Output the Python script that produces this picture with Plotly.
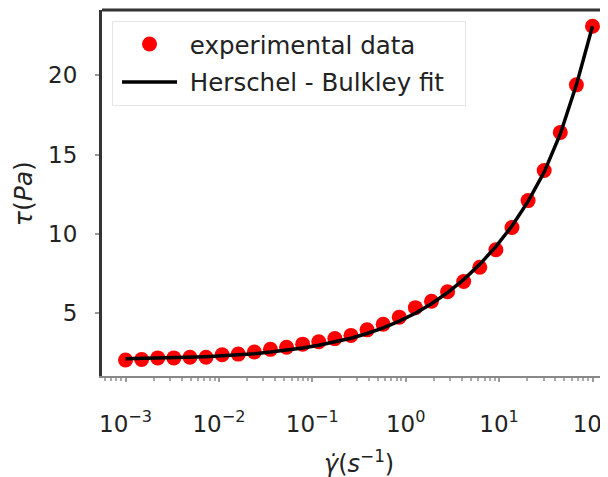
import plotly.graph_objects as go

# shear rate (1/s), 30 log-spaced points from 1e-3 to 1e2
shear_rate = [10 ** (-3 + i * 5 / 29) for i in range(30)]

stress_exp = [2.05, 2.08, 2.18, 2.18, 2.22, 2.22, 2.38, 2.42, 2.55, 2.72,
              2.85, 3.05, 3.20, 3.40, 3.60, 3.95, 4.30, 4.75, 5.35, 5.75,
              6.35, 7.00, 7.90, 9.00, 10.40, 12.10, 14.00, 16.40, 19.40, 23.10]

stress_fit = [2.12, 2.14, 2.16, 2.19, 2.22, 2.26, 2.31, 2.37, 2.45, 2.55,
              2.67, 2.81, 2.98, 3.18, 3.42, 3.72, 4.08, 4.50, 5.00, 5.60,
              6.30, 7.12, 8.08, 9.20, 10.50, 12.05, 13.90, 16.30, 19.40, 23.10]

x_tick_vals = [1e-3, 1e-2, 1e-1, 1e0, 1e1, 1e2]
x_tick_text = ["10<sup>−3</sup>", "10<sup>−2</sup>", "10<sup>−1</sup>",
               "10<sup>0</sup>", "10<sup>1</sup>", "10<sup>2</sup>"]
y_tick_vals = [5, 10, 15, 20]

FONT = "DejaVu Sans"
TXT = "#222222"

fig = go.Figure()
fig.add_trace(go.Scatter(
    x=shear_rate, y=stress_exp, mode="markers",
    name="\u00a0experimental data", legendgroup="a",
    marker=dict(color="#ff0000", size=15, line=dict(width=0)),
))
fig.add_trace(go.Scatter(
    x=shear_rate, y=stress_fit, mode="lines",
    name="\u00a0Herschel - Bulkley fit\u00a0\u00a0", legendgroup="b",
    line=dict(color="#000000", width=3.5),
))

fig.update_layout(
    width=608, height=477,
    margin=dict(l=94, r=8, t=2, b=109),
    paper_bgcolor="white", plot_bgcolor="white",
    font=dict(family=FONT, size=23, color=TXT),
    showlegend=True,
    legend=dict(
        x=0.0198, y=0.971, xanchor="left", yanchor="top",
        bgcolor="white", bordercolor="#e6e6e6", borderwidth=1,
        font=dict(family=FONT, size=24.5, color=TXT),
        itemwidth=55, indentation=4, tracegroupgap=3, traceorder="grouped",
    ),
    xaxis=dict(
        type="log", range=[-3.252, 2.166],
        tickvals=x_tick_vals, ticktext=x_tick_text,
        ticks="outside", ticklen=4, tickwidth=2, tickcolor="#999999",
        showline=True, linecolor="#888888", linewidth=2,
        showgrid=False, zeroline=False,
        ticklabelstandoff=22, ticklabeloverflow="allow",
        minor=dict(ticks="outside", ticklen=3, tickwidth=1.5,
                   tickcolor="#aaaaaa", dtick="D1", showgrid=False),
        tickfont=dict(family=FONT, size=23, color=TXT),
    ),
    yaxis=dict(
        range=[1.04, 24.12],
        tickvals=y_tick_vals,
        ticks="outside", ticklen=4, tickwidth=2, tickcolor="#999999",
        showline=True, linecolor="#333333", linewidth=3,
        showgrid=False, zeroline=False,
        ticklabelstandoff=13,
        tickfont=dict(family=FONT, size=23, color=TXT),
    ),
    shapes=[dict(type="line", xref="paper", yref="paper", x0=0, x1=1,
                 y0=1, y1=1, line=dict(color="#333333", width=3))],
    annotations=[
        dict(text="<i>γ̇</i>(<i>s</i><sup>−1</sup>)", xref="paper", yref="paper",
             x=0.508, y=-0.235, xanchor="center", yanchor="middle",
             showarrow=False, font=dict(family=FONT, size=24, color=TXT)),
        dict(text="<i>τ</i>(<i>Pa</i>)", xref="paper", yref="paper",
             x=-0.156, y=0.497, xanchor="center", yanchor="middle",
             textangle=-90, showarrow=False,
             font=dict(family=FONT, size=25, color=TXT)),
    ],
)

fig.write_html("out.html")
